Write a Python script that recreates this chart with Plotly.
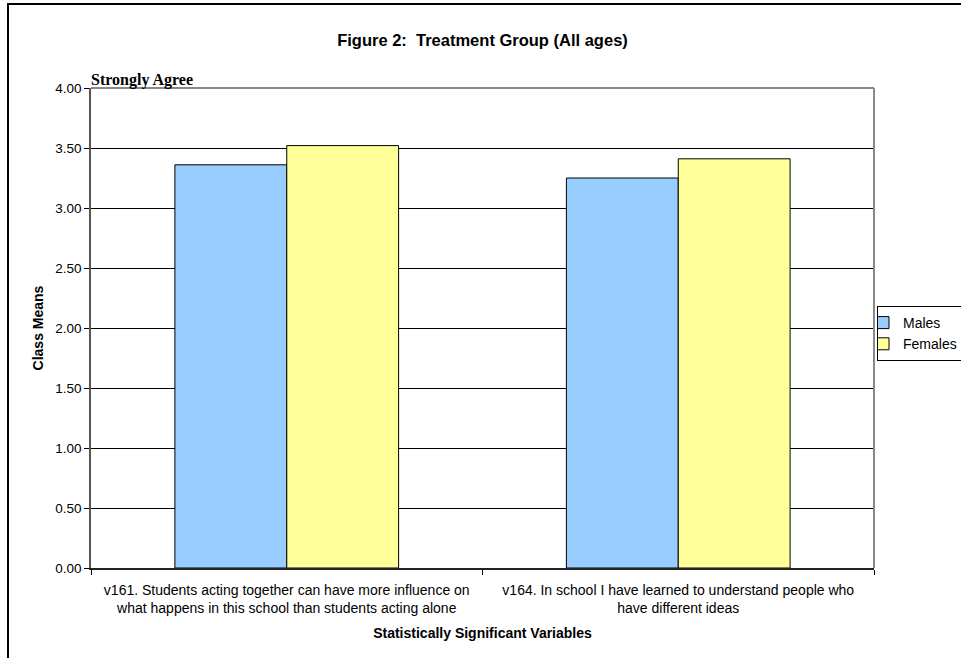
import plotly.graph_objects as go

# Survey items (two-line tick labels) and class means by gender
categories = [
    "v161. Students acting together can have more influence on<br>what happens in this school than students acting alone",
    "v164. In school I have learned to understand people who<br>have different ideas",
]
males = [3.36, 3.25]
females = [3.52, 3.41]
y_ticks = [0.0, 0.5, 1.0, 1.5, 2.0, 2.5, 3.0, 3.5, 4.0]

W, H = 961, 658
L, R, T, B = 91, 87, 88, 90  # plot area: x 91..874, y 88..568
pw, ph = W - L - R, H - T - B

def px_x(x):
    return (x - L) / pw

def px_y(y):
    return (H - B - y) / ph

fig = go.Figure()
fig.add_trace(go.Bar(name="Males", x=categories, y=males,
                     marker=dict(color="#99CCFF", line=dict(color="#000000", width=1))))
fig.add_trace(go.Bar(name="Females", x=categories, y=females,
                     marker=dict(color="#FFFF99", line=dict(color="#000000", width=1))))

sans = "Arial, Liberation Sans, sans-serif"

fig.update_layout(
    width=W, height=H,
    margin=dict(l=L, r=R, t=T, b=B, autoexpand=False),
    paper_bgcolor="#FFFFFF", plot_bgcolor="#FFFFFF",
    barmode="group", bargap=0.4286, bargroupgap=0.0,
    font=dict(family=sans, size=13.5, color="#000000"),
    title=dict(text="<b>Figure 2:&nbsp; Treatment Group (All ages)</b>",
               font=dict(family=sans, size=16.5, color="#000000"),
               x=0.5, xref="paper", xanchor="center",
               y=1 - 40 / H, yref="container", yanchor="middle"),
    xaxis=dict(
        type="category", tickson="boundaries", ticks="outside", ticklen=5,
        tickcolor="#000000", tickwidth=1,
        showline=True, linecolor="#222222", linewidth=1.5,
        showgrid=False, zeroline=False,
        tickfont=dict(family=sans, size=14, color="#000000"),
        ticklabelstandoff=8,
        title=dict(text="<b>Statistically Significant Variables</b>",
                   font=dict(family=sans, size=14, color="#000000"), standoff=13),
    ),
    yaxis=dict(
        range=[0, 4], tickvals=y_ticks, tickformat=".2f",
        ticks="outside", ticklen=5, tickcolor="#000000", tickwidth=1,
        showline=True, linecolor="#555555", linewidth=1.5,
        showgrid=True, gridcolor="#000000", gridwidth=1, zeroline=False,
        tickfont=dict(family=sans, size=13.5, color="#000000"),
        title=dict(text="<b>Class Means</b>",
                   font=dict(family=sans, size=14, color="#000000"), standoff=8),
    ),
    legend=dict(
        x=px_x(877), xref="paper", xanchor="left",
        y=px_y(306), yref="paper", yanchor="top",
        bordercolor="#000000", borderwidth=1, bgcolor="#FFFFFF",
        font=dict(family=sans, size=14, color="#000000"),
        itemwidth=30, indentation=-15, tracegroupgap=0,
    ),
    showlegend=True,
)

# Scale anchor label above the top of the value axis
fig.add_annotation(text="<b>Strongly Agree</b>", xref="paper", yref="paper",
                   x=0, y=1, xanchor="left", yanchor="bottom", yshift=-3, xshift=-2,
                   showarrow=False,
                   font=dict(family="Times New Roman, Liberation Serif, serif", size=16,
                             color="#000000"))

# Grey plot-area frame on the top and right sides
fig.add_shape(type="line", xref="paper", yref="paper", x0=0, x1=1, y0=1, y1=1,
              line=dict(color="#888888", width=2))
fig.add_shape(type="line", xref="paper", yref="paper", x0=1, x1=1, y0=0, y1=1,
              line=dict(color="#888888", width=2))

# Outer chart border
fig.add_shape(type="rect", xref="paper", yref="paper",
              x0=px_x(8), x1=px_x(975), y0=px_y(675), y1=px_y(4),
              line=dict(color="#000000", width=2), fillcolor="rgba(0,0,0,0)",
              layer="below")

fig.write_html("out.html")
